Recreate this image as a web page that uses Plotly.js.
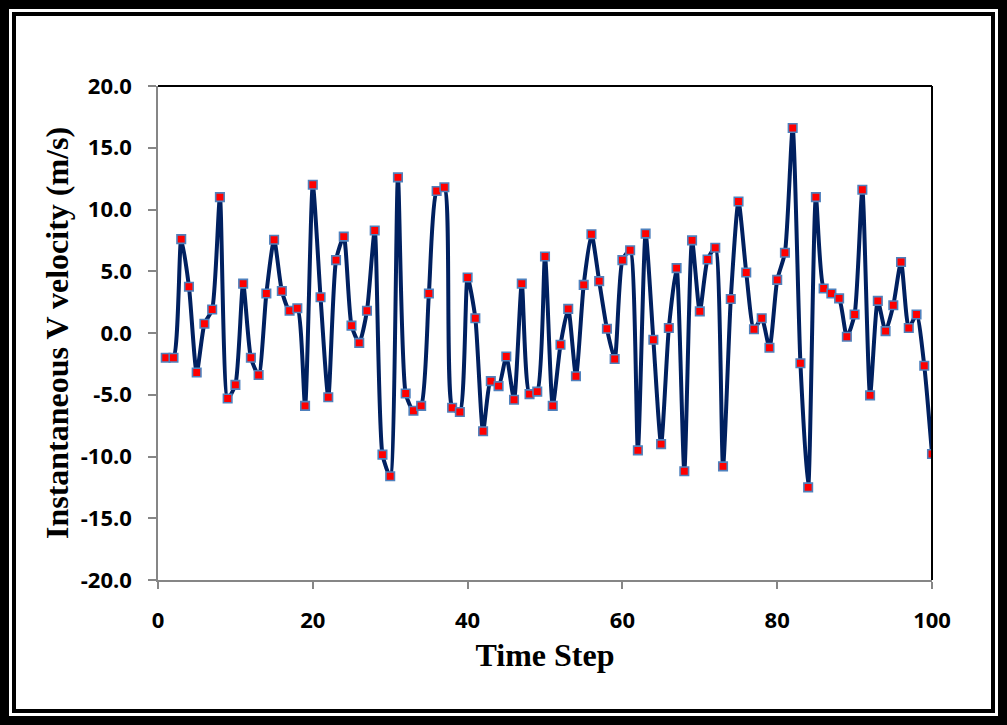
<!DOCTYPE html>
<html>
<head>
<meta charset="utf-8">
<script src="https://cdn.plot.ly/plotly-3.0.1.min.js"></script>
<style>
  html, body { margin: 0; padding: 0; background: #fff; }
  #outer { width: 1007px; height: 725px; box-sizing: border-box; border: 9px solid #000; padding: 3px; }
  #inner { width: 100%; height: 100%; box-sizing: border-box; border: 4px solid #000; }
  #chart { width: 975px; height: 693px; }
</style>
</head>
<body>
<div id="outer"><div id="inner"><div id="chart"></div></div></div>
<script>
const timeStep = [1,2,3,4,5,6,7,8,9,10,11,12,13,14,15,16,17,18,19,20,
  21,22,23,24,25,26,27,28,29,30,31,32,33,34,35,36,37,38,39,40,
  41,42,43,44,45,46,47,48,49,50,51,52,53,54,55,56,57,58,59,60,
  61,62,63,64,65,66,67,68,69,70,71,72,73,74,75,76,77,78,79,80,
  81,82,83,84,85,86,87,88,89,90,91,92,93,94,95,96,97,98,99,100];
const vVelocity = [-2.0,-2.0,7.6,3.75,-3.2,0.75,1.9,11.0,-5.3,-4.2,
  4.0,-2.0,-3.4,3.2,7.55,3.4,1.8,2.0,-5.9,12.0,
  2.9,-5.2,5.9,7.8,0.6,-0.8,1.8,8.3,-9.85,-11.6,
  12.6,-4.9,-6.3,-5.9,3.2,11.5,11.8,-6.05,-6.4,4.5,
  1.2,-7.95,-3.9,-4.3,-1.9,-5.4,4.0,-4.95,-4.75,6.2,
  -5.9,-0.95,1.95,-3.5,3.9,8.0,4.2,0.35,-2.1,5.9,
  6.7,-9.5,8.05,-0.55,-9.0,0.4,5.25,-11.2,7.5,1.75,
  5.95,6.9,-10.8,2.75,10.65,4.9,0.3,1.2,-1.2,4.3,
  6.5,16.6,-2.45,-12.5,11.0,3.6,3.2,2.8,-0.3,1.5,
  11.6,-5.05,2.6,0.15,2.25,5.75,0.4,1.5,-2.65,-9.8];
const yTickVals = [-20,-15,-10,-5,0,5,10,15,20];
const yTickText = ["-20.0","-15.0","-10.0","-5.0","0.0","5.0","10.0","15.0","20.0"];
const xTickVals = [0,20,40,60,80,100];
const xTickText = ["0","20","40","60","80","100"];

const trace = {
  x: timeStep, y: vVelocity, type: 'scatter', mode: 'lines+markers',
  line: {color: '#002060', width: 4, shape: 'spline', smoothing: 0.6},
  marker: {symbol: 'square', size: 8.5, color: '#ff0000', line: {color: '#4f81bd', width: 1.6}},
  hoverinfo: 'x+y'
};
const tickFont = {family: 'Open Sans, sans-serif', size: 22, color: '#000', weight: 'bold'};
const titleFont = {family: 'Liberation Serif, Times New Roman, serif', size: 32, color: '#000', weight: 'bold'};
const layout = {
  width: 975, height: 693,
  margin: {l: 142, r: 59, t: 70, b: 129},
  paper_bgcolor: '#fff', plot_bgcolor: '#fff',
  showlegend: false,
  xaxis: {
    range: [0, 100], tickvals: xTickVals, ticktext: xTickText,
    showgrid: false, zeroline: false, showline: true, linecolor: '#868686', linewidth: 1.5,
    ticks: 'outside', ticklen: 7, tickwidth: 1.5, tickcolor: '#868686',
    tickfont: tickFont, ticklabelstandoff: 13,
    title: {text: 'Time Step', font: titleFont, standoff: 10}
  },
  yaxis: {
    range: [-20, 20], tickvals: yTickVals, ticktext: yTickText,
    showgrid: false, zeroline: false, showline: true, linecolor: '#868686', linewidth: 1.5,
    ticks: 'outside', ticklen: 8, tickwidth: 1.5, tickcolor: '#868686',
    tickfont: tickFont, ticklabelstandoff: 12,
    title: {text: 'Instantaneous V velocity (m/s)', font: titleFont, standoff: 3}
  },
  shapes: [
    {type: 'line', xref: 'paper', yref: 'paper', x0: 0, x1: 1, y0: 1, y1: 1, line: {color: '#000', width: 2}},
    {type: 'line', xref: 'paper', yref: 'paper', x0: 1, x1: 1, y0: 0, y1: 1, line: {color: '#000', width: 2}}
  ]
};
Plotly.newPlot('chart', [trace], layout, {displayModeBar: false});
</script>
</body>
</html>
